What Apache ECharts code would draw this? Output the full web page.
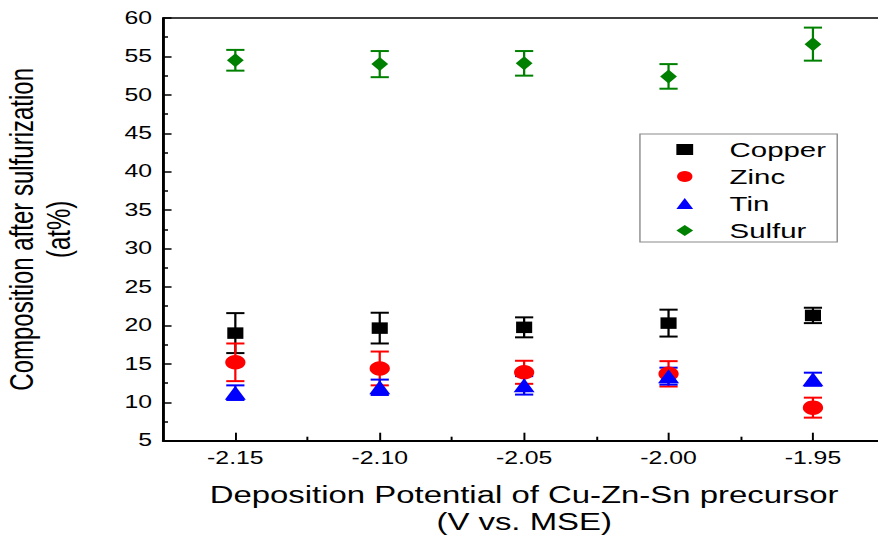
<!DOCTYPE html>
<html>
<head>
<meta charset="utf-8">
<script src="https://cdn.jsdelivr.net/npm/echarts@6/dist/echarts.min.js"></script>
<style>
  html, body { margin: 0; padding: 0; background: #fff; overflow: hidden; }
  #wrap { width: 878px; height: 538px; overflow: hidden; }
  /* chart laid out narrow, then widened to the page width */
  #chart { width: 627px; height: 538px; transform: scaleX(1.40032); transform-origin: 0 0; }
</style>
</head>
<body>
<div id="wrap"><div id="chart"></div></div>
<script>
// Deposition potential (V vs. MSE)
const potentials = [-2.15, -2.10, -2.05, -2.00, -1.95];
const majorTicks = [-2.15, -2.10, -2.05, -2.00, -1.95];
const minorTicks = [-2.125, -2.075, -2.025, -1.975];

// Composition after sulfurization (at%) with standard deviations
const copper    = [19.0, 19.65, 19.75, 20.3, 21.3];
const copperErr = [2.6, 2.0, 1.3, 1.75, 1.0];
const zinc      = [15.2, 14.4, 13.9, 13.7, 9.3];
const zincErr   = [2.45, 2.2, 1.5, 1.65, 1.3];
const tin       = [11.25, 11.95, 12.2, 13.4, 13.0];
const tinErr    = [0.95, 1.0, 1.2, 1.1, 0.85];
const sulfur    = [54.5, 54.0, 54.1, 52.4, 56.6];
const sulfurErr = [1.35, 1.7, 1.6, 1.6, 2.15];

const COLORS = { Copper: '#000000', Zinc: '#ff0000', Tin: '#0000ff', Sulfur: '#008000' };
const FONT = 'Liberation Sans, Arial, sans-serif';

function points(vals) {
  return potentials.map((x, i) => [x, vals[i]]);
}
function ranges(vals, errs) {
  return potentials.map((x, i) => [x, vals[i] - errs[i], vals[i] + errs[i]]);
}
function errorSeries(name, vals, errs) {
  const color = COLORS[name];
  return {
    type: 'custom',
    name: name,
    xAxisIndex: 0,
    yAxisIndex: 0,
    silent: true,
    itemStyle: { color: color },
    data: ranges(vals, errs),
    renderItem: function (params, api) {
      const x = api.value(0);
      const top = api.coord([x, api.value(2)]);
      const bot = api.coord([x, api.value(1)]);
      const half = 6.5;
      const st = { stroke: color, lineWidth: 1.6 };
      const cap = { stroke: color, lineWidth: 2 };
      return {
        type: 'group',
        children: [
          { type: 'line', shape: { x1: top[0], y1: top[1], x2: bot[0], y2: bot[1] }, style: st },
          { type: 'line', shape: { x1: top[0] - half, y1: top[1], x2: top[0] + half, y2: top[1] }, style: cap },
          { type: 'line', shape: { x1: bot[0] - half, y1: bot[1], x2: bot[0] + half, y2: bot[1] }, style: cap }
        ]
      };
    },
    z: 2
  };
}
function pointSeries(name, vals, symbol, size) {
  return {
    type: 'scatter',
    name: name,
    xAxisIndex: 0,
    yAxisIndex: 0,
    data: points(vals),
    symbol: symbol,
    symbolSize: size,
    itemStyle: { color: COLORS[name], opacity: 1 },
    z: 3
  };
}

const chart = echarts.init(document.getElementById('chart'), null, { renderer: 'svg' });
chart.setOption({
  backgroundColor: '#ffffff',
  animation: false,
  grid: {
    left: 116.5, top: 18, width: 515.6, height: 422.7,
    show: true, borderColor: '#000', borderWidth: 1.6,
    outerBoundsMode: 'none', containLabel: false
  },
  legend: {
    orient: 'vertical',
    left: 457, top: 134,
    itemWidth: 12, itemHeight: 11, itemGap: 6,
    padding: [5, 8, 1, 26],
    borderColor: '#8a8a8a', borderWidth: 1,
    backgroundColor: '#fff',
    textStyle: { fontFamily: FONT, fontSize: 21, lineHeight: 20, color: '#000', padding: [0, 0, 0, 21] },
    data: [
      { name: 'Copper', icon: 'rect', itemStyle: { color: COLORS.Copper } },
      { name: 'Zinc', icon: 'circle', itemStyle: { color: COLORS.Zinc } },
      { name: 'Tin', icon: 'triangle', itemStyle: { color: COLORS.Tin } },
      { name: 'Sulfur', icon: 'diamond', itemStyle: { color: COLORS.Sulfur } }
    ]
  },
  xAxis: [
    {
      type: 'value',
      min: -2.175, max: -1.925,
      name: 'Deposition Potential of Cu-Zn-Sn precursor\n(V vs. MSE)',
      nameLocation: 'middle',
      nameGap: 41,
      nameTextStyle: { fontFamily: FONT, fontSize: 23.5, lineHeight: 27, color: '#000' },
      axisLine: { show: true, onZero: false, lineStyle: { color: '#000', width: 2 } },
      axisTick: { show: true, inside: true, length: 8, customValues: majorTicks, lineStyle: { color: '#000', width: 1.4 } },
      axisLabel: {
        show: true, margin: 9, customValues: majorTicks,
        fontFamily: FONT, fontSize: 17.7, color: '#000',
        formatter: v => v.toFixed(2)
      },
      splitLine: { show: false }
    },
    {
      type: 'value',
      min: -2.175, max: -1.925,
      position: 'bottom',
      axisLine: { show: false, onZero: false },
      axisTick: { show: true, inside: true, length: 4, customValues: minorTicks, lineStyle: { color: '#000', width: 1.4 } },
      axisLabel: { show: false },
      splitLine: { show: false }
    }
  ],
  yAxis: {
    type: 'value',
    min: 5, max: 60, interval: 5,
    name: 'Composition after sulfurization\n(at%)',
    nameLocation: 'middle',
    nameRotate: 90,
    nameGap: 61,
    nameTextStyle: { fontFamily: FONT, fontSize: 24, lineHeight: 27, color: '#000' },
    axisLine: { show: true, onZero: false, lineStyle: { color: '#000', width: 1.5 } },
    axisTick: { show: true, inside: true, length: 6, lineStyle: { color: '#000', width: 1.5 } },
    minorTick: { show: true, splitNumber: 2, length: 3.5, lineStyle: { color: '#000', width: 1.5 } },
    axisLabel: { margin: 8, fontFamily: FONT, fontSize: 17.7, color: '#000' },
    splitLine: { show: false }
  },
  series: [
    errorSeries('Copper', copper, copperErr),
    pointSeries('Copper', copper, 'rect', [11.5, 11.5]),
    errorSeries('Zinc', zinc, zincErr),
    pointSeries('Zinc', zinc, 'circle', 14.5),
    errorSeries('Tin', tin, tinErr),
    pointSeries('Tin', tin, 'triangle', [15, 14]),
    errorSeries('Sulfur', sulfur, sulfurErr),
    pointSeries('Sulfur', sulfur, 'diamond', [12, 14])
  ]
});
</script>
</body>
</html>
